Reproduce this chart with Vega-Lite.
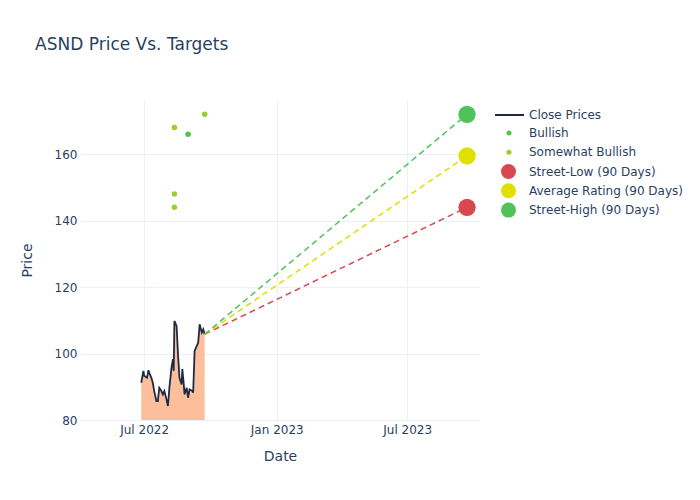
{
  "$schema": "https://vega.github.io/schema/vega-lite/v6.json",
  "width": 400,
  "height": 320,
  "autosize": {"type": "none"},
  "padding": {"left": 80, "top": 100, "right": 220, "bottom": 80},
  "background": "white",
  "title": {
    "text": "ASND Price Vs. Targets",
    "anchor": "start",
    "dx": 15,
    "offset": 46,
    "fontSize": 17,
    "font": "DejaVu Sans",
    "fontWeight": "normal",
    "color": "#2a3f5f"
  },
  "config": {
    "view": {"stroke": null},
    "font": "DejaVu Sans",
    "axis": {
      "domain": false,
      "ticks": false,
      "gridColor": "#ebf0f8",
      "gridWidth": 1,
      "labelColor": "#2a3f5f",
      "labelFontSize": 12,
      "labelFont": "DejaVu Sans",
      "titleColor": "#2a3f5f",
      "titleFontSize": 14,
      "titleFont": "DejaVu Sans",
      "titleFontWeight": "normal"
    },
    "legend": {
      "labelColor": "#2a3f5f",
      "labelFontSize": 12,
      "labelFont": "DejaVu Sans",
      "padding": 0
    }
  },
  "datasets": {
    "prices": [
      {"date": "2022-06-27", "price": 91.2, "series": "Close Prices"},
      {"date": "2022-06-30", "price": 94.8, "series": "Close Prices"},
      {"date": "2022-07-01", "price": 93.3, "series": "Close Prices"},
      {"date": "2022-07-05", "price": 92.7, "series": "Close Prices"},
      {"date": "2022-07-07", "price": 95.0, "series": "Close Prices"},
      {"date": "2022-07-08", "price": 94.3, "series": "Close Prices"},
      {"date": "2022-07-11", "price": 92.7, "series": "Close Prices"},
      {"date": "2022-07-13", "price": 91.2, "series": "Close Prices"},
      {"date": "2022-07-15", "price": 88.7, "series": "Close Prices"},
      {"date": "2022-07-18", "price": 85.7, "series": "Close Prices"},
      {"date": "2022-07-20", "price": 85.7, "series": "Close Prices"},
      {"date": "2022-07-22", "price": 89.7, "series": "Close Prices"},
      {"date": "2022-07-25", "price": 88.7, "series": "Close Prices"},
      {"date": "2022-07-27", "price": 87.7, "series": "Close Prices"},
      {"date": "2022-07-29", "price": 88.7, "series": "Close Prices"},
      {"date": "2022-08-01", "price": 86.2, "series": "Close Prices"},
      {"date": "2022-08-03", "price": 84.2, "series": "Close Prices"},
      {"date": "2022-08-05", "price": 89.7, "series": "Close Prices"},
      {"date": "2022-08-08", "price": 95.8, "series": "Close Prices"},
      {"date": "2022-08-10", "price": 98.3, "series": "Close Prices"},
      {"date": "2022-08-11", "price": 94.8, "series": "Close Prices"},
      {"date": "2022-08-12", "price": 109.8, "series": "Close Prices"},
      {"date": "2022-08-15", "price": 108.3, "series": "Close Prices"},
      {"date": "2022-08-17", "price": 99.8, "series": "Close Prices"},
      {"date": "2022-08-19", "price": 92.7, "series": "Close Prices"},
      {"date": "2022-08-22", "price": 90.7, "series": "Close Prices"},
      {"date": "2022-08-23", "price": 95.3, "series": "Close Prices"},
      {"date": "2022-08-25", "price": 90.7, "series": "Close Prices"},
      {"date": "2022-08-26", "price": 87.7, "series": "Close Prices"},
      {"date": "2022-08-29", "price": 89.7, "series": "Close Prices"},
      {"date": "2022-08-31", "price": 86.7, "series": "Close Prices"},
      {"date": "2022-09-02", "price": 89.2, "series": "Close Prices"},
      {"date": "2022-09-06", "price": 88.7, "series": "Close Prices"},
      {"date": "2022-09-07", "price": 88.2, "series": "Close Prices"},
      {"date": "2022-09-09", "price": 100.8, "series": "Close Prices"},
      {"date": "2022-09-12", "price": 102.3, "series": "Close Prices"},
      {"date": "2022-09-14", "price": 103.3, "series": "Close Prices"},
      {"date": "2022-09-16", "price": 108.8, "series": "Close Prices"},
      {"date": "2022-09-19", "price": 106.3, "series": "Close Prices"},
      {"date": "2022-09-21", "price": 107.3, "series": "Close Prices"},
      {"date": "2022-09-23", "price": 105.8, "series": "Close Prices"}
    ],
    "analysts": [
      {"date": "2022-08-12", "price": 168, "rating": "Somewhat Bullish"},
      {"date": "2022-08-12", "price": 148, "rating": "Somewhat Bullish"},
      {"date": "2022-08-12", "price": 144, "rating": "Somewhat Bullish"},
      {"date": "2022-08-31", "price": 166, "rating": "Bullish"},
      {"date": "2022-09-23", "price": 172, "rating": "Somewhat Bullish"}
    ],
    "targetLines": [
      {"date": "2022-09-23", "price": 105.8, "target": "Street-Low (90 Days)"},
      {"date": "2023-09-22", "price": 144, "target": "Street-Low (90 Days)"},
      {"date": "2022-09-23", "price": 105.8, "target": "Average Rating (90 Days)"},
      {"date": "2023-09-22", "price": 159.5, "target": "Average Rating (90 Days)"},
      {"date": "2022-09-23", "price": 105.8, "target": "Street-High (90 Days)"},
      {"date": "2023-09-22", "price": 172, "target": "Street-High (90 Days)"}
    ],
    "targets": [
      {"date": "2023-09-22", "price": 144, "target": "Street-Low (90 Days)"},
      {"date": "2023-09-22", "price": 159.5, "target": "Average Rating (90 Days)"},
      {"date": "2023-09-22", "price": 172, "target": "Street-High (90 Days)"}
    ]
  },
  "encoding": {
    "x": {
      "field": "date",
      "type": "temporal",
      "title": "Date",
      "scale": {
        "domain": [
          {"year": 2022, "month": 4, "date": 3, "utc": true},
          {"year": 2023, "month": 10, "date": 10, "utc": true}
        ]
      },
      "axis": {
        "values": [
          {"year": 2022, "month": 7, "date": 1, "utc": true},
          {"year": 2023, "month": 1, "date": 1, "utc": true},
          {"year": 2023, "month": 7, "date": 1, "utc": true}
        ],
        "labelExpr": "utcFormat(datum.value, '%b %Y')",
        "labelPadding": 4,
        "titlePadding": 14
      }
    },
    "y": {
      "field": "price",
      "type": "quantitative",
      "title": "Price",
      "scale": {"domain": [80, 176.3], "nice": false, "zero": false},
      "axis": {"values": [80, 100, 120, 140, 160], "labelPadding": 3, "titlePadding": 20}
    }
  },
  "layer": [
    {
      "data": {"name": "prices"},
      "mark": {"type": "area", "color": "#fdbf9b", "opacity": 1, "clip": true}
    },
    {
      "data": {"name": "prices"},
      "mark": {"type": "line", "strokeWidth": 1.8, "clip": true},
      "encoding": {
        "stroke": {
          "field": "series",
          "type": "nominal",
          "scale": {"domain": ["Close Prices"], "range": ["#1e2a44"]},
          "legend": {
            "title": null,
            "orient": "none",
            "legendX": 414,
            "legendY": -0.5,
            "symbolType": "stroke",
            "symbolSize": 841,
            "symbolStrokeWidth": 2,
            "labelOffset": 4
          }
        }
      }
    },
    {
      "data": {"name": "targetLines"},
      "transform": [{"filter": "datum.target === 'Street-Low (90 Days)'"}],
      "mark": {"type": "line", "strokeDash": [6, 4], "strokeWidth": 1.5, "color": "#d9474f"}
    },
    {
      "data": {"name": "targetLines"},
      "transform": [{"filter": "datum.target === 'Average Rating (90 Days)'"}],
      "mark": {"type": "line", "strokeDash": [6, 4], "strokeWidth": 1.5, "color": "#dfdf00"}
    },
    {
      "data": {"name": "targetLines"},
      "transform": [{"filter": "datum.target === 'Street-High (90 Days)'"}],
      "mark": {"type": "line", "strokeDash": [6, 4], "strokeWidth": 1.5, "color": "#4fc35a"}
    },
    {
      "data": {"name": "analysts"},
      "mark": {"type": "point", "filled": true, "size": 30, "opacity": 1},
      "encoding": {
        "fill": {
          "field": "rating",
          "type": "nominal",
          "scale": {"domain": ["Bullish", "Somewhat Bullish"], "range": ["#55c150", "#9acd2e"]},
          "legend": {
            "title": null,
            "orient": "none",
            "legendX": 423,
            "legendY": 27,
            "symbolType": "circle",
            "symbolSize": 25,
            "symbolStrokeWidth": 0,
            "labelOffset": 14,
            "rowPadding": 7.3
          }
        }
      }
    },
    {
      "data": {"name": "targets"},
      "mark": {"type": "point", "filled": true, "size": 300, "opacity": 1},
      "encoding": {
        "color": {
          "field": "target",
          "type": "nominal",
          "scale": {
            "domain": ["Street-Low (90 Days)", "Average Rating (90 Days)", "Street-High (90 Days)"],
            "range": ["#d9474f", "#dfdf00", "#4fc35a"]
          },
          "legend": {
            "title": null,
            "orient": "none",
            "legendX": 421,
            "legendY": 64,
            "symbolType": "circle",
            "symbolSize": 225,
            "symbolStrokeWidth": 0,
            "labelOffset": 13,
            "rowPadding": 4.3
          }
        }
      }
    }
  ]
}
